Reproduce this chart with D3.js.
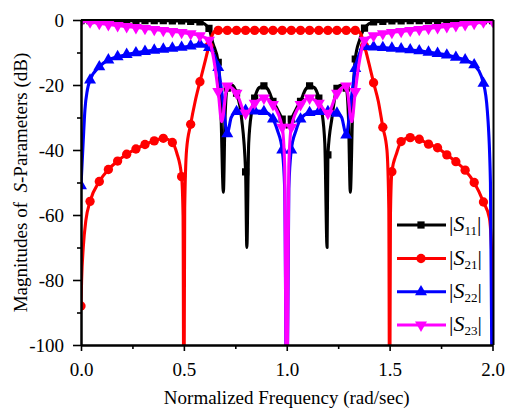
<!DOCTYPE html>
<html><head><meta charset="utf-8">
<script src="https://cdn.jsdelivr.net/npm/d3@7"></script>
<style>
body{margin:0;background:#fff}
svg{display:block}
text{font-family:"Liberation Serif","Times New Roman",serif;fill:#000}
</style>
</head><body>
<svg id="c" width="505" height="408"></svg>
<script>
// ---------- data (frequency in rad/sec, magnitude in dB) ----------
const xTicks = [0, 0.5, 1.0, 1.5, 2.0];
const xMinor = [0.25, 0.75, 1.25, 1.75];
const yTicks = [0, -20, -40, -60, -80, -100];
const yMinor = [-10, -30, -50, -70, -90];
const legendLabels = ["11", "21", "22", "23"];

// points that carry a marker
const s11Marks = [[0,-0.2],[0.044,-0.2],[0.089,-0.2],[0.133,-0.2],[0.178,-0.2],[0.222,-0.2],[0.267,-0.2],[0.311,-0.2],[0.356,-0.2],[0.4,-0.2],[0.444,-0.3],[0.489,-0.3],[0.533,-0.4],[0.578,-0.6],[0.622,-2.6],[0.667,-13],[0.711,-21],[0.756,-22.5],[0.8,-46.7],[0.844,-24],[0.889,-20.3],[0.933,-25],[0.978,-30.5],[1.022,-30.5],[1.067,-25],[1.111,-20.3],[1.156,-24],[1.2,-41.5],[1.244,-21],[1.289,-21],[1.333,-12],[1.378,-2.5],[1.422,-0.6],[1.467,-0.4],[1.511,-0.3],[1.556,-0.3],[1.6,-0.2],[1.644,-0.2],[1.689,-0.2],[1.733,-0.2],[1.778,-0.2],[1.822,-0.2],[1.867,-0.2],[1.911,-0.2],[1.956,-0.2],[2.0,-0.2]];
// additional line points without marker
const s11Extra = [[0.64,-7],[0.68,-28],[0.692,-53],[0.70,-30],[0.733,-20],[0.78,-30],[0.806,-70],[0.815,-38],[0.83,-28],[0.866,-20.8],[0.91,-21.5],[0.955,-27.5],[1.0,-33],[1.045,-27.5],[1.09,-21.5],[1.134,-20.8],[1.17,-28],[1.185,-38],[1.196,-70],[1.22,-30],[1.267,-20],[1.30,-30],[1.309,-53],[1.32,-28],[1.355,-6]];

const s21Marks = [[0,-88],[0.044,-55.8],[0.089,-49.7],[0.133,-46],[0.178,-43.4],[0.222,-41.3],[0.267,-39.7],[0.311,-38.3],[0.356,-37.2],[0.4,-36.4],[0.444,-37.7],[0.489,-48.2],[0.533,-32.1],[0.578,-19],[0.622,-8],[0.667,-3.2],[0.711,-3.2],[0.756,-3.2],[0.8,-3.2],[0.844,-3.2],[0.889,-3.2],[0.933,-3.2],[0.978,-3.2],[1.022,-3.2],[1.067,-3.2],[1.111,-3.2],[1.156,-3.2],[1.2,-3.2],[1.244,-3.2],[1.289,-3.2],[1.333,-3.2],[1.378,-8],[1.422,-19.3],[1.467,-33],[1.511,-46.7],[1.556,-37.4],[1.6,-36.2],[1.644,-36.7],[1.689,-38.2],[1.733,-39.3],[1.778,-41.5],[1.822,-43.6],[1.867,-46.2],[1.911,-50],[1.956,-56],[2.0,-130]];
const s21Extra = [[0.003,-80],[0.011,-70],[0.024,-61.5],[0.466,-41],[0.496,-60],[0.5,-130],[0.504,-58],[0.513,-40],[0.555,-25],[0.6,-13.5],[0.64,-4.3],[0.652,-3.4],[1.348,-3.4],[1.36,-4.3],[1.4,-13.5],[1.445,-25],[1.487,-40],[1.496,-58],[1.5,-130],[1.504,-60],[1.534,-41],[1.985,-61],[1.996,-72]];

const s22Marks = [[0,-51],[0.044,-18.5],[0.089,-14.4],[0.133,-12.3],[0.178,-11.3],[0.222,-10.6],[0.267,-10.1],[0.311,-9.7],[0.356,-9.3],[0.4,-9.0],[0.444,-8.7],[0.489,-8.4],[0.533,-8.0],[0.578,-7.5],[0.622,-8.5],[0.667,-14.6],[0.711,-35],[0.756,-28.2],[0.8,-27.8],[0.844,-28],[0.889,-28.2],[0.933,-30.5],[0.978,-40],[1.022,-40],[1.067,-30.5],[1.111,-28.5],[1.156,-28.2],[1.2,-28.2],[1.244,-28.7],[1.289,-35.4],[1.333,-14.9],[1.378,-8.2],[1.422,-8.3],[1.467,-8.5],[1.511,-8.7],[1.556,-8.9],[1.6,-9.2],[1.644,-9.5],[1.689,-9.9],[1.733,-10.3],[1.778,-10.8],[1.822,-11.5],[1.867,-12.3],[1.911,-13.8],[1.956,-19.5],[2.0,-130]];
const s22Extra = [[0.011,-37],[0.019,-27.7],[0.031,-21.5],[0.645,-10.5],[0.69,-25],[0.73,-30],[0.955,-34],[0.99,-52],[1.0,-130],[1.01,-52],[1.045,-34],[1.267,-30],[1.31,-26],[1.355,-10],[1.975,-28],[1.99,-50]];

const s23Marks = [[0,-0.3],[0.044,-0.6],[0.089,-1.0],[0.133,-1.4],[0.178,-1.7],[0.222,-2.0],[0.267,-2.3],[0.311,-2.6],[0.356,-2.9],[0.4,-3.2],[0.444,-3.5],[0.489,-3.8],[0.533,-4.2],[0.578,-4.8],[0.622,-6.2],[0.667,-22],[0.711,-20.3],[0.756,-22.5],[0.8,-28.7],[0.844,-25.6],[0.889,-24],[0.933,-26],[0.978,-33],[1.022,-33],[1.067,-26],[1.111,-24],[1.156,-25.6],[1.2,-28.7],[1.244,-22.5],[1.289,-20.3],[1.333,-22],[1.378,-6.2],[1.422,-4.8],[1.467,-4.2],[1.511,-3.8],[1.556,-3.5],[1.6,-3.2],[1.644,-2.9],[1.689,-2.6],[1.733,-2.3],[1.778,-2.0],[1.822,-1.7],[1.867,-1.4],[1.911,-1.0],[1.956,-0.6],[2.0,-0.3]];
const s23Extra = [[0.645,-12],[0.684,-31.3],[0.735,-21],[0.99,-45],[1.0,-130],[1.01,-45],[1.265,-21],[1.316,-31.3],[1.355,-12]];

// ---------- rendering ----------
const svg = d3.select("#c");
svg.append("rect").attr("width",505).attr("height",408).attr("fill","#fff");

const X0 = 81, X1 = 492.5, Y0 = 345, Y1 = 20;
const x = d3.scaleLinear().domain([0, 2]).range([X0, X1]);
const y = d3.scaleLinear().domain([-100, 0]).range([Y0, Y1]);

svg.append("clipPath").attr("id","clip").append("rect")
  .attr("x", X0).attr("y", Y1).attr("width", X1 - X0 + 1).attr("height", Y0 - Y1);

const series = [
  {marks: s11Marks, extra: s11Extra, color: "#000000", sym: "square"},
  {marks: s21Marks, extra: s21Extra, color: "#ff0000", sym: "circle"},
  {marks: s22Marks, extra: s22Extra, color: "#0000ff", sym: "up"},
  {marks: s23Marks, extra: s23Extra, color: "#ff00ff", sym: "down"}
];

function symPath(kind) {
  if (kind === "square") return d3.symbol(d3.symbolSquare, 52)();
  if (kind === "circle") return d3.symbol(d3.symbolCircle, 68)();
  return d3.symbol(d3.symbolTriangle, 62)();
}
function symTransform(kind, px, py) {
  return `translate(${px},${py})` + (kind === "down" ? " rotate(180)" : "");
}

const line = d3.line().x(d => x(d[0])).y(d => y(d[1])).curve(d3.curveMonotoneX);
const plot = svg.append("g").attr("clip-path", "url(#clip)");

series.forEach(s => {
  const pts = s.marks.concat(s.extra).sort((a, b) => a[0] - b[0]);
  const g = plot.append("g");
  g.append("path").attr("d", line(pts)).attr("fill", "none")
    .attr("stroke", s.color).attr("stroke-width", 3.1).attr("stroke-linejoin", "round");
  g.selectAll("path.m").data(s.marks).enter().append("path").attr("class", "m")
    .attr("d", symPath(s.sym))
    .attr("transform", d => symTransform(s.sym, x(d[0]), y(d[1])))
    .attr("fill", s.color);
});

// axes
const fontTick = 19;
const ax = svg.append("g").attr("transform", `translate(0,${Y0})`)
  .call(d3.axisBottom(x).tickValues(xTicks).tickSize(6).tickSizeOuter(0).tickPadding(12)
    .tickFormat(d3.format(".1f")));
const axm = svg.append("g").attr("transform", `translate(0,${Y0})`)
  .call(d3.axisBottom(x).tickValues(xMinor).tickSize(4).tickSizeOuter(0).tickFormat(""));
const ay = svg.append("g").attr("transform", `translate(${X0},0)`)
  .call(d3.axisLeft(y).tickValues(yTicks).tickSize(8).tickSizeOuter(0).tickPadding(9)
    .tickFormat(d => String(d)));
const aym = svg.append("g").attr("transform", `translate(${X0},0)`)
  .call(d3.axisLeft(y).tickValues(yMinor).tickSize(4).tickSizeOuter(0).tickFormat(""));
[ax, axm, ay, aym].forEach(g => {
  g.selectAll("path.domain").attr("stroke", "#000").attr("stroke-width", 2);
  g.selectAll(".tick line").attr("stroke", "#000").attr("stroke-width", 1.6);
  g.selectAll(".tick text").attr("font-size", fontTick)
    .attr("font-family", '"Liberation Serif","Times New Roman",serif').attr("fill", "#000");
});
// frame top & right
svg.append("line").attr("x1", X0).attr("x2", X1 + 1).attr("y1", Y1).attr("y2", Y1)
  .attr("stroke", "#000").attr("stroke-width", 2);
svg.append("line").attr("x1", X1 + 1).attr("x2", X1 + 1).attr("y1", Y1).attr("y2", Y0)
  .attr("stroke", "#000").attr("stroke-width", 2);

// axis titles
svg.append("text").attr("x", (X0 + X1) / 2).attr("y", 404).attr("text-anchor", "middle")
  .attr("font-size", 19).text("Normalized Frequency (rad/sec)");
const yt = svg.append("text").attr("transform", `translate(27,${(Y0 + Y1) / 2}) rotate(-90)`)
  .attr("text-anchor", "middle").attr("font-size", 19).style("white-space", "pre");
yt.append("tspan").text("Magnitudes of  ");
yt.append("tspan").attr("font-style", "italic").text("S");
yt.append("tspan").text("-Parameters (dB)");

// legend
const legY = [225, 258.5, 291.8, 325];
series.forEach((s, i) => {
  const g = svg.append("g");
  const cy = legY[i];
  g.append("line").attr("x1", 397).attr("x2", 446).attr("y1", cy).attr("y2", cy)
    .attr("stroke", s.color).attr("stroke-width", 3.1);
  g.append("path").attr("d", symPath(s.sym)).attr("transform", symTransform(s.sym, 421, cy))
    .attr("fill", s.color);
  const t = g.append("text").attr("x", 449).attr("y", cy + 6).attr("font-size", 22);
  t.append("tspan").text("|");
  t.append("tspan").attr("font-style", "italic").text("S");
  t.append("tspan").attr("font-size", 13).attr("dy", 4).text(legendLabels[i]);
  t.append("tspan").attr("dy", -4).text("|");
});
</script>
</body></html>
